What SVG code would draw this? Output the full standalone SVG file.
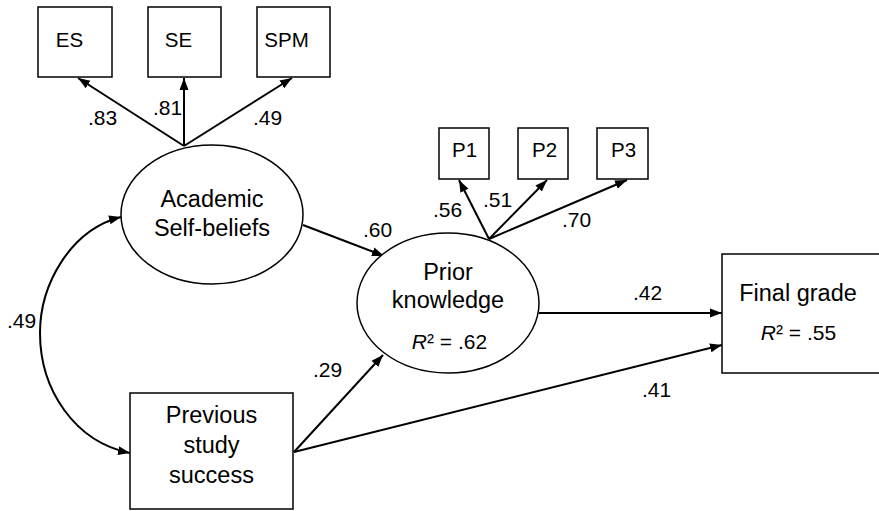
<svg xmlns="http://www.w3.org/2000/svg" width="879" height="511" viewBox="0 0 879 511">
  <style>
    .box { fill: #fff; stroke: #000; stroke-width: 1.5; }
    .lat { fill: #fff; stroke: #000; stroke-width: 1.5; }
    .path { fill: none; stroke: #000; stroke-width: 2; marker-end: url(#arrow); }
    .t { font-family: "Liberation Sans", Arial, sans-serif; fill: #000; }
    .ind { font-size: 20.5px; text-anchor: middle; }
    .big { font-size: 23.5px; text-anchor: middle; }
    .coef { font-size: 21px; }
    .r2 { font-size: 21px; text-anchor: middle; }
  </style>
  <defs>
    <marker id="arrow" markerUnits="userSpaceOnUse" markerWidth="13" markerHeight="10" refX="12" refY="4.5" orient="auto-start-reverse" viewBox="0 0 13 9">
      <path d="M0,0 L12,4.5 L0,9 z" fill="#000"/>
    </marker>
  </defs>
  <rect width="879" height="511" fill="#fff"/>

  <!-- connectors -->
  <g id="connectors">
    <line class="path" x1="184" y1="146" x2="78" y2="78"/>
    <line class="path" x1="184" y1="146" x2="184" y2="78"/>
    <line class="path" x1="184" y1="146" x2="292" y2="78"/>
    <line class="path" x1="303" y1="225" x2="384" y2="256"/>
    <line class="path" x1="489" y1="239" x2="459" y2="180"/>
    <line class="path" x1="489" y1="239" x2="547" y2="180"/>
    <line class="path" x1="489" y1="239" x2="627" y2="180"/>
    <line class="path" x1="539" y1="313" x2="722" y2="313"/>
    <line class="path" x1="294" y1="452" x2="383" y2="355"/>
    <line class="path" x1="294" y1="452" x2="722" y2="345"/>
    <path class="path" style="marker-start:url(#arrow)" d="M121,217 C70,230 40,285 40,333 C40,390 75,442 130,453"/>
  </g>

  <!-- path coefficients -->
  <g id="coefficients" class="t coef">
    <text x="88" y="125">.83</text>
    <text x="153" y="115">.81</text>
    <text x="253" y="125">.49</text>
    <text x="363" y="237">.60</text>
    <text x="433" y="217">.56</text>
    <text x="483" y="207">.51</text>
    <text x="562" y="227">.70</text>
    <text x="633" y="300">.42</text>
    <text x="313" y="377">.29</text>
    <text x="642" y="397">.41</text>
    <text x="7" y="328">.49</text>
  </g>

  <!-- indicators of academic self-beliefs -->
  <g id="ES">
    <rect class="box" x="38" y="7" width="74" height="70"/>
    <text class="t ind" x="69.5" y="47">ES</text>
  </g>
  <g id="SE">
    <rect class="box" x="148" y="7" width="73" height="70"/>
    <text class="t ind" x="178.5" y="47">SE</text>
  </g>
  <g id="SPM">
    <rect class="box" x="257" y="7" width="73" height="70"/>
    <text class="t ind" x="286.5" y="47">SPM</text>
  </g>

  <!-- latent: academic self-beliefs -->
  <g id="academic-self-beliefs">
    <ellipse class="lat" cx="212" cy="214.5" rx="91" ry="69.5"/>
    <text class="t big" x="212" y="207">Academic</text>
    <text class="t big" x="212" y="236">Self-beliefs</text>
  </g>

  <!-- indicators of prior knowledge -->
  <g id="P1">
    <rect class="box" x="439" y="128" width="50" height="51"/>
    <text class="t ind" x="464.5" y="157">P1</text>
  </g>
  <g id="P2">
    <rect class="box" x="518" y="128" width="50" height="51"/>
    <text class="t ind" x="544.5" y="157">P2</text>
  </g>
  <g id="P3">
    <rect class="box" x="597" y="128" width="51" height="51"/>
    <text class="t ind" x="623.5" y="157">P3</text>
  </g>

  <!-- latent: prior knowledge -->
  <g id="prior-knowledge">
    <ellipse class="lat" cx="448" cy="303" rx="91" ry="70"/>
    <text class="t big" x="448" y="280">Prior</text>
    <text class="t big" x="448" y="308">knowledge</text>
    <text class="t r2" x="449.5" y="349"><tspan font-style="italic">R</tspan>² = .62</text>
  </g>

  <!-- outcome -->
  <g id="final-grade">
    <rect class="box" x="722" y="254" width="170" height="119"/>
    <text class="t big" x="798" y="301">Final grade</text>
    <text class="t r2" x="798.5" y="340"><tspan font-style="italic">R</tspan>² = .55</text>
  </g>

  <!-- observed: previous study success -->
  <g id="previous-study-success">
    <rect class="box" x="130" y="393" width="163" height="116"/>
    <text class="t big" x="211.5" y="423">Previous</text>
    <text class="t big" x="211.5" y="453">study</text>
    <text class="t big" x="211.5" y="483">success</text>
  </g>
</svg>
